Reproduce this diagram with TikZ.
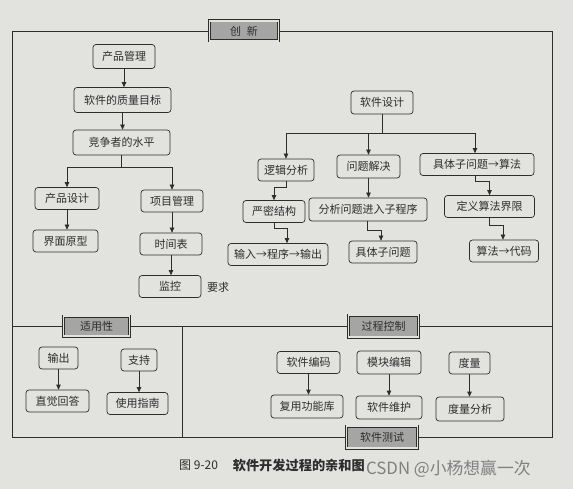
\documentclass[tikz,border=0pt]{standalone}
\usepackage{fontspec}
\newfontfamily\cjk{Noto Sans CJK SC}
\usetikzlibrary{arrows.meta}
\definecolor{paper}{RGB}{226,226,223}
\definecolor{ink}{RGB}{45,45,45}
\definecolor{lblfill}{RGB}{165,165,163}
\tikzset{
 box/.style={draw=ink, line width=0.7pt, rounded corners=3pt, fill=paper, inner sep=0pt,
   minimum height=22pt, font=\cjk\fontsize{11}{13}\selectfont, text=ink},
 lbl/.style={draw=ink, line width=0.7pt, double=paper, double distance=1.6pt, fill=lblfill,
   inner sep=0pt, minimum height=20pt, font=\cjk\fontsize{11}{13}\selectfont, text=ink},
 arr/.style={draw=ink, line width=0.7pt, -{Triangle[length=5pt,width=4.5pt]}},
 frame/.style={draw=ink, line width=0.8pt},
 plain/.style={inner sep=0pt, text=ink, font=\cjk\fontsize{11}{13}\selectfont},
}
\begin{document}
\begin{tikzpicture}[x=1pt,y=-1pt]
\fill[paper] (0,0) rectangle (573,489);
\useasboundingbox (0,0) rectangle (573,489);
% frames
\draw[frame] (12,31) rectangle (552,437);
\draw[frame] (12,326) -- (552,326);
\draw[frame] (182,326) -- (182,437);
% group labels
\node[lbl, minimum width=69pt] (cx) at (244,31) {创\hspace{6pt}新};
\node[lbl, minimum width=66pt] (syx) at (96.5,326) {适用性};
\node[lbl, minimum width=70pt, minimum height=22pt] (gckz) at (383.5,326) {过程控制};
\node[lbl, minimum width=71pt, minimum height=22pt] (rjcs) at (382,437) {软件测试};
% upper left
\node[box, minimum width=62pt, minimum height=24pt] (pm) at (124,56.5) {产品管理};
\node[box, minimum width=97pt, minimum height=25pt] (zl) at (122.5,100) {软件的质量目标};
\node[box, minimum width=97pt, minimum height=25pt] (jz) at (121.5,142.5) {竞争者的水平};
\node[box, minimum width=64pt] (cpsj) at (67,198.5) {产品设计};
\node[box, minimum width=62pt] (xmgl) at (172,201) {项目管理};
\node[box, minimum width=65pt] (jmyx) at (65.5,241) {界面原型};
\node[box, minimum width=62pt] (sjb) at (171,244) {时间表};
\node[box, minimum width=62pt] (jk) at (170,286.5) {监控};
\node[plain] (yq) at (218,287) {要求};
% upper right
\node[box, minimum width=62pt, minimum height=23pt] (rjsj) at (382,102.5) {软件设计};
\node[box, minimum width=56pt] (ljfx) at (286,170) {逻辑分析};
\node[box, minimum width=63pt, minimum height=23pt] (wtjj) at (368.5,166.5) {问题解决};
\node[box, minimum width=114pt] (jtsf) at (477,164.5) {具体子问题→算法};
\node[box, minimum width=62pt] (ymjg) at (274,211.5) {严密结构};
\node[box, minimum width=118pt, minimum height=23pt] (fxwt) at (368,209.5) {分析问题进入子程序};
\node[box, minimum width=90pt] (dysf) at (489.5,206.5) {定义算法界限};
\node[box, minimum width=100pt] (srsc) at (278,254.5) {输入→程序→输出};
\node[box, minimum width=68pt] (jtzwt) at (383,252) {具体子问题};
\node[box, minimum width=69pt] (sfdm) at (504,251) {算法→代码};
% lower
\node[box, minimum width=39pt] (sc) at (58.5,358) {输出};
\node[box, minimum width=63pt] (zjhd) at (57.5,401) {直觉回答};
\node[box, minimum width=36pt] (zc) at (139,360) {支持};
\node[box, minimum width=61pt] (syzn) at (137.5,403.5) {使用指南};
\node[box, minimum width=63pt] (rjbm) at (308.5,362.5) {软件编码};
\node[box, minimum width=72pt, minimum height=23pt] (fygn) at (307,406.5) {复用功能库};
\node[box, minimum width=64pt, minimum height=23pt] (mkbj) at (389,362.5) {模块编辑};
\node[box, minimum width=66pt, minimum height=23pt] (rjwh) at (389,407.5) {软件维护};
\node[box, minimum width=41pt] (dl) at (469.5,363) {度量};
\node[box, minimum width=68pt, minimum height=24pt] (dlfx) at (470,409) {度量分析};
% connectors upper left
\draw[arr] (pm.south) -- (pm.south |- zl.north);
\draw[arr] (zl.south) -- (zl.south |- jz.north);
\draw[arr] (jz.south) -- ++(0,12) -| (cpsj.north);
\draw[arr] (jz.south) -- ++(0,12) -| (xmgl.north);
\draw[arr] (cpsj.south) -- (cpsj.south |- jmyx.north);
\draw[arr] (xmgl.south) -- (xmgl.south |- sjb.north);
\draw[arr] (sjb.south) -- (sjb.south |- jk.north);
% connectors upper right
\draw[arr] (rjsj.south) -- ++(0,19) -| (ljfx.north);
\draw[arr] (rjsj.south) -- ++(0,19) -| (wtjj.north);
\draw[arr] (rjsj.south) -- ++(0,19) -| ([xshift=-2pt]jtsf.north);
\draw[arr] (ljfx.south) -- ++(0,6) -| (ymjg.north);
\draw[arr] (ymjg.south) -- ++(0,6) -| ([xshift=9pt]srsc.north);
\draw[arr] (wtjj.south) -- (wtjj.south |- fxwt.north);
\draw[arr] ([xshift=-1pt]fxwt.south) -- ++(0,9) -| ([xshift=-2pt]jtzwt.north);
\draw[arr] ([xshift=-2pt]jtsf.south) -- ++(0,6) -| (dysf.north);
\draw[arr] (dysf.south) -- ++(0,8) -| ([xshift=-1pt]sfdm.north);
% connectors lower
\draw[arr] (sc.south) -- (sc.south |- zjhd.north);
\draw[arr] (zc.south) -- (zc.south |- syzn.north);
\draw[arr] (rjbm.south) -- (rjbm.south |- fygn.north);
\draw[arr] (mkbj.south) -- (mkbj.south |- rjwh.north);
\draw[arr] (dl.south) -- (dl.south |- dlfx.north);
% caption
\node[plain, anchor=west, font=\cjk\fontsize{12}{14}\selectfont] (cap1) at (179,465) {图 9-20};
\node[plain, anchor=east, font=\cjk\bfseries\fontsize{13.2}{15}\selectfont] (cap2) at (365,465) {软件开发过程的亲和图};
\node[plain, anchor=west, text=black!50, font=\cjk\fontsize{16.8}{19}\selectfont] (wm) at (366,469) {CSDN @小杨想赢一次};
\end{tikzpicture}
\end{document}
